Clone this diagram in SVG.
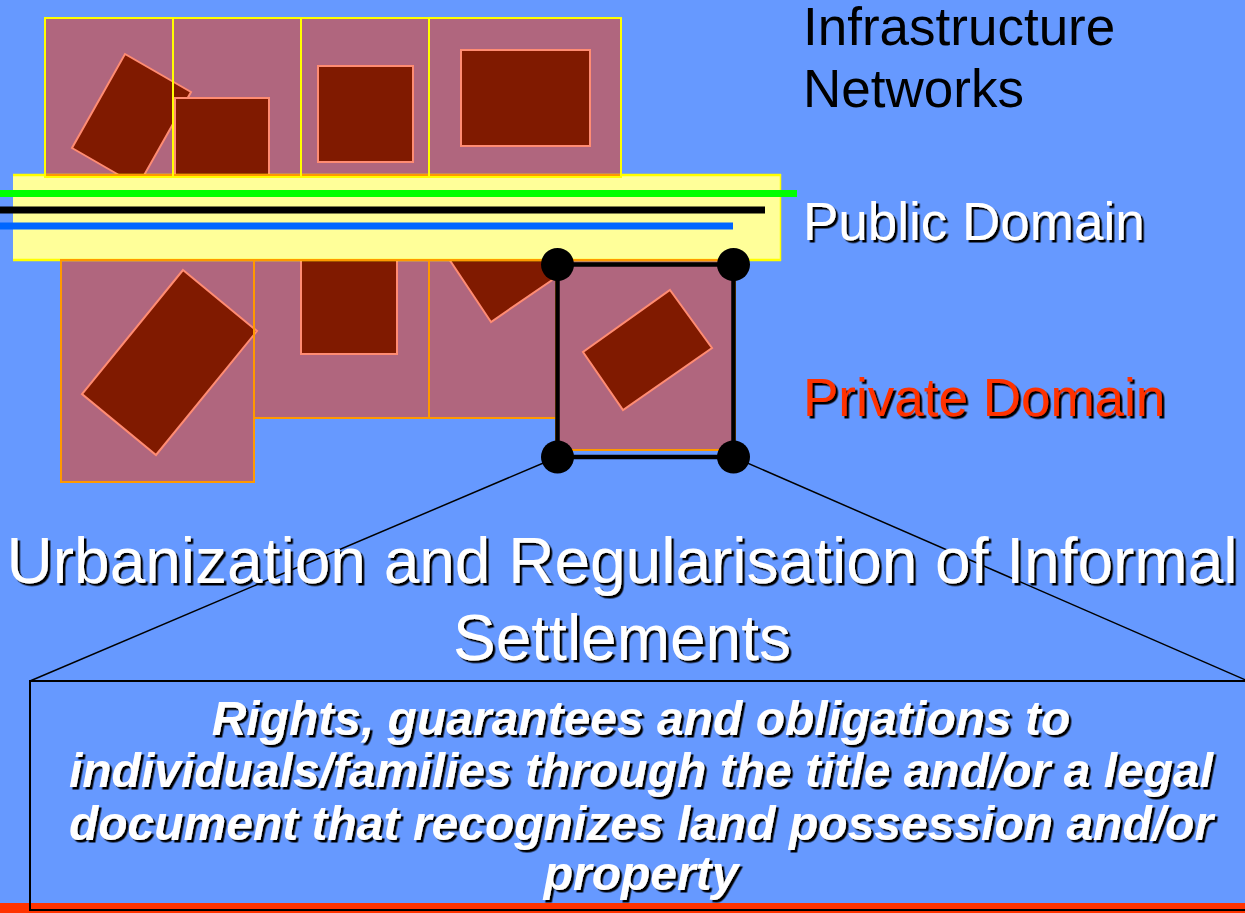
<svg xmlns="http://www.w3.org/2000/svg" width="1245" height="913" viewBox="0 0 1245 913">
<defs>
<filter id="shadow" x="-5%" y="-20%" width="110%" height="140%">
<feDropShadow dx="2.5" dy="2.5" stdDeviation="0" flood-color="#000000" flood-opacity="1"/>
</filter>
</defs>
<style>
.pink{fill:#B0667E;stroke:none}
.inner{fill:#801A00;stroke:#FF8C73;stroke-width:2}
.topout{fill:none;stroke:#FFFF00;stroke-width:2}
.botout{fill:none;stroke:#FF9900;stroke-width:2}
.lbl{font-family:"Liberation Sans",Arial,sans-serif;font-size:53px}
.title{font-family:"Liberation Sans",Arial,sans-serif;font-size:64px;text-anchor:middle;fill:#FFFFFF}
.body{font-family:"Liberation Sans",Arial,sans-serif;font-size:48px;font-weight:bold;font-style:italic;text-anchor:middle;fill:#FFFFFF}
.sh{filter:url(#shadow)}
</style>
<rect x="0" y="0" width="1245" height="913" fill="#6699FF"/>
<g id="blocks-top">
<rect class="pink" x="45" y="18" width="576" height="159"/>
</g>
<g id="blocks-bottom">
<rect class="pink" x="61" y="259" width="193" height="223"/>
<rect class="pink" x="254" y="259" width="175" height="159"/>
<rect class="pink" x="429" y="259" width="127" height="159"/>
<rect class="pink" x="556" y="259" width="179" height="191"/>
</g>
<g id="buildings">
<polygon class="inner" points="125,54 191,92 138,186 72,148"/>
<rect class="inner" x="175" y="98" width="94" height="95"/>
<rect class="inner" x="318" y="66" width="95" height="96"/>
<rect class="inner" x="461" y="50" width="129" height="96"/>
<polygon class="inner" points="183,270 257,331 156,455 82,394"/>
<rect class="inner" x="301" y="240" width="96" height="114"/>
<polygon class="inner" points="491,322 427,226 494,180 558,276"/>
<polygon class="inner" points="670,290 712,348 623,410 583,352"/>
</g>
<g id="public-domain-band">
<rect x="13" y="174" width="768" height="86.5" fill="#FFFF99"/>
<line x1="13" y1="175" x2="781" y2="175" stroke="#FFFF00" stroke-width="2.5"/>
<line x1="13" y1="260" x2="781" y2="260" stroke="#FFFF00" stroke-width="2.5"/>
<line x1="780.5" y1="174" x2="780.5" y2="261" stroke="#FFFF00" stroke-width="1.5"/>
</g>
<g id="networks">
<line x1="0" y1="193.5" x2="797" y2="193.5" stroke="#00FF00" stroke-width="7"/>
<line x1="0" y1="210" x2="765" y2="210" stroke="#000000" stroke-width="7"/>
<line x1="0" y1="226" x2="733" y2="226" stroke="#0066FF" stroke-width="7"/>
</g>
<g id="block-outlines">
<line x1="45" y1="175.5" x2="621" y2="175.5" stroke="#FF9900" stroke-width="3"/>
<rect class="topout" x="45" y="18" width="128" height="159"/>
<rect class="topout" x="173" y="18" width="128" height="159"/>
<rect class="topout" x="301" y="18" width="128" height="159"/>
<rect class="topout" x="429" y="18" width="192" height="159"/>
<rect class="botout" x="61" y="260" width="193" height="222"/>
<rect class="botout" x="254" y="260" width="175" height="158"/>
<rect class="botout" x="429" y="260" width="127" height="158"/>
<rect class="botout" x="556" y="260" width="179" height="190"/>
</g>
<g id="parcel">
<rect x="557.5" y="264.5" width="176" height="192.5" fill="none" stroke="#000000" stroke-width="4.5"/>
<circle cx="557.5" cy="264.5" r="16.5" fill="#000000"/>
<circle cx="733.5" cy="264.5" r="16.5" fill="#000000"/>
<circle cx="557.5" cy="457" r="16.5" fill="#000000"/>
<circle cx="733.5" cy="457" r="16.5" fill="#000000"/>
</g>
<g id="connectors">
<line x1="557.5" y1="457" x2="30" y2="681" stroke="#000000" stroke-width="1.5"/>
<line x1="733.5" y1="457" x2="1248" y2="681" stroke="#000000" stroke-width="1.5"/>
</g>
<g id="callout-box">
<rect x="30" y="681" width="1225" height="229" fill="#6699FF"/>
<rect x="0" y="903" width="1245" height="10" fill="#FF3300"/>
<rect x="30" y="681" width="1225" height="229" fill="none" stroke="#000000" stroke-width="2"/>
</g>
<g id="labels">
<text class="lbl" x="803" y="45" fill="#000000">Infrastructure</text>
<text class="lbl" x="803" y="107" fill="#000000">Networks</text>
<text class="lbl sh" x="803" y="240" fill="#FFFFFF">Public Domain</text>
<text class="lbl sh" x="803" y="416" fill="#FF3300">Private Domain</text>
</g>
<g id="title">
<text class="title sh" x="622" y="583">Urbanization and Regularisation of Informal</text>
<text class="title sh" x="622" y="660">Settlements</text>
</g>
<g id="callout-text">
<text class="body sh" x="641" y="735">Rights, guarantees and obligations to</text>
<text class="body sh" x="641" y="787">individuals/families through the title and/or a legal</text>
<text class="body sh" x="641" y="840">document that recognizes land possession and/or</text>
<text class="body sh" x="641" y="890">property</text>
</g>
</svg>
